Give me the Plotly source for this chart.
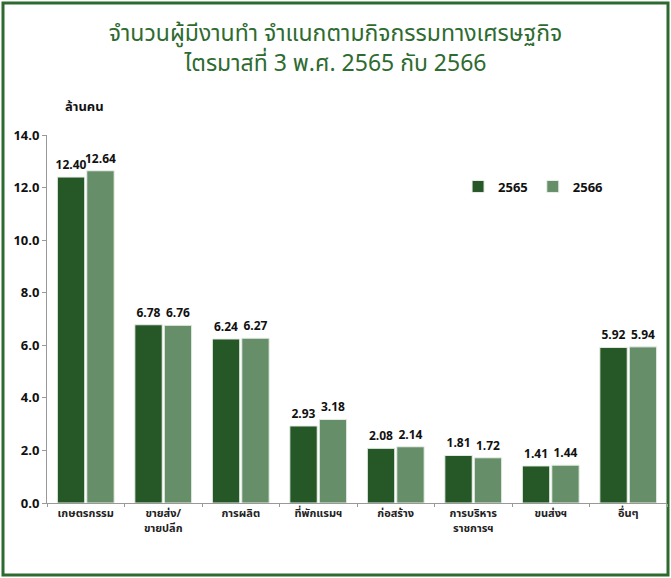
import plotly.graph_objects as go

categories = ["เกษตรกรรม", "ขายส่ง/<br>ขายปลีก", "การผลิต", "ที่พักแรมฯ", "ก่อสร้าง",
              "การบริหาร<br>ราชการฯ", "ขนส่งฯ", "อื่นๆ"]
values_2565 = [12.40, 6.78, 6.24, 2.93, 2.08, 1.81, 1.41, 5.92]
values_2566 = [12.64, 6.76, 6.27, 3.18, 2.14, 1.72, 1.44, 5.94]
series_names = ["2565", "2566"]
title_text = "จำนวนผู้มีงานทำ จำแนกตามกิจกรรมทางเศรษฐกิจ<br>ไตรมาสที่ 3 พ.ศ. 2565 กับ 2566"
y_unit = "ล้านคน"
y_ticks = [0, 2, 4, 6, 8, 10, 12, 14]

FONT = "Tahoma, 'Noto Sans Thai', Loma, Garuda, 'DejaVu Sans', sans-serif"
DARK = "#265727"
LIGHT = "#668f69"

fig = go.Figure()
for name, vals, col in [(series_names[0], values_2565, DARK), (series_names[1], values_2566, LIGHT)]:
    fig.add_trace(go.Bar(
        x=categories, y=vals, name=name,
        marker=dict(color=col, line=dict(color="#e8efe8", width=1)),
        text=[f"{v:.2f}" for v in vals], textposition="outside",
        textfont=dict(family=FONT, size=12, color="#111111", weight="bold"),
        constraintext="none",
        cliponaxis=False,
    ))

fig.update_layout(
    width=671, height=578,
    margin=dict(l=47, r=4, t=135, b=75),
    paper_bgcolor="white", plot_bgcolor="white",
    barmode="group", bargap=0.24, bargroupgap=0.07,
    font=dict(family=FONT, color="#111111"),
    title=dict(text=title_text, x=0.5, xref="container", xanchor="center",
               y=0.929, yref="container", yanchor="middle",
               font=dict(family=FONT, size=23, color="#2e6b30")),
    showlegend=True,
    legend=dict(orientation="h", x=0.663, y=0.86, xanchor="left", yanchor="middle",
                font=dict(family=FONT, size=13, color="#111111", weight="bold"),
                itemwidth=30, bgcolor="rgba(0,0,0,0)"),
    xaxis=dict(showline=True, linecolor="#999999", linewidth=1,
               ticks="outside", tickson="boundaries", ticklen=3, tickcolor="#999999",
               tickfont=dict(family=FONT, size=11, color="#222222", weight="bold"),
               showgrid=False),
    yaxis=dict(range=[0, 14], tickvals=y_ticks, tickformat=".1f",
               showline=True, linecolor="#999999", linewidth=1,
               ticks="outside", ticklen=4, tickcolor="#999999",
               tickfont=dict(family=FONT, size=13, color="#111111", weight="bold"),
               showgrid=False, zeroline=False),
)

fig.add_annotation(text=y_unit, xref="paper", yref="paper", x=0.026, y=1.109,
                   showarrow=False, font=dict(family=FONT, size=13, color="#111111", weight="bold"))

fig.add_shape(type="rect", xref="paper", yref="paper",
              x0=(3 - 47) / 620, x1=(668 - 47) / 620,
              y0=(503 - 575) / 368, y1=(503 - 3) / 368,
              line=dict(color="#2d6a2f", width=3), fillcolor="rgba(0,0,0,0)", layer="below")

fig.write_html("out.html", config={"displayModeBar": False},
               post_script="document.body.style.margin='0';")
